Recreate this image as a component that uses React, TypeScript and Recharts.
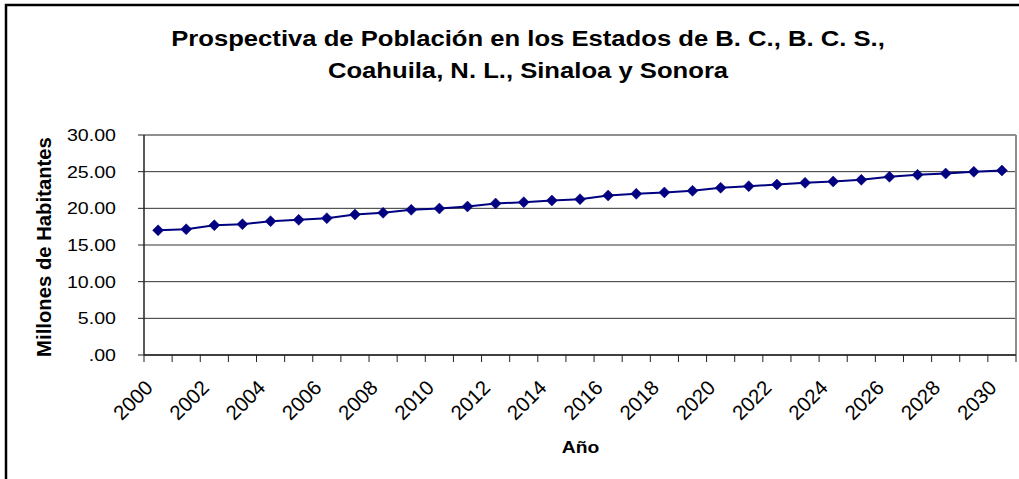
import React from 'react';
import { LineChart, Line, XAxis, YAxis, CartesianGrid, ReferenceLine } from 'recharts';

const years = [
  2000, 2001, 2002, 2003, 2004, 2005, 2006, 2007, 2008, 2009, 2010,
  2011, 2012, 2013, 2014, 2015, 2016, 2017, 2018, 2019, 2020,
  2021, 2022, 2023, 2024, 2025, 2026, 2027, 2028, 2029, 2030,
];
const poblacion = [
  17.0, 17.15, 17.7, 17.84, 18.25, 18.43, 18.66, 19.16, 19.39, 19.8, 19.98,
  20.25, 20.66, 20.84, 21.07, 21.25, 21.75, 21.98, 22.17, 22.39, 22.8,
  23.02, 23.25, 23.48, 23.66, 23.89, 24.3, 24.57, 24.75, 24.98, 25.16,
];
const yTicks = [0, 5, 10, 15, 20, 25, 30];
const yearLabels = [2000, 2002, 2004, 2006, 2008, 2010, 2012, 2014, 2016, 2018, 2020, 2022, 2024, 2026, 2028, 2030];
const titleLines = [
  'Prospectiva de Población en los Estados de B. C., B. C. S.,',
  'Coahuila, N. L., Sinaloa y Sonora',
];
const yAxisTitle = 'Millones de Habitantes';
const xAxisTitle = 'Año';

const data = years.map((year, i) => ({ year, value: poblacion[i] }));
const boundaries = [...years.map((y) => y - 0.5), years[years.length - 1] + 0.5];

const FONT = '"Liberation Sans", Arial, Helvetica, sans-serif';
const NAVY = '#000080';

function YTick(props: any) {
  const { x, y, payload } = props;
  const v = Number(payload.value);
  const label = v === 0 ? '.00' : v.toFixed(2);
  return (
    <text
      transform={`translate(${x},${y}) scale(1.167,1)`}
      textAnchor="end"
      dy="0.36em"
      fontFamily={FONT}
      fontSize={16.8}
      fill="#000"
    >
      {label}
    </text>
  );
}

function XTick(props: any) {
  const { x, y, payload, width } = props;
  const year = Number(payload.value) + 0.5;
  if (!yearLabels.includes(year)) return <g />;
  const cx = x + Number(width) / (2 * years.length);
  const ax = cx - 4;
  const ay = y + 27;
  return (
    <text
      transform={`translate(${ax},${ay}) rotate(-45)`}
      textAnchor="end"
      fontFamily={FONT}
      fontSize={20.5}
      fill="#000"
    >
      {year}
    </text>
  );
}

function Diamond(props: any) {
  const { cx, cy } = props;
  if (cx == null || cy == null) return <g />;
  const r = 5.5;
  return (
    <polygon
      points={`${cx},${cy - r} ${cx + r},${cy} ${cx},${cy + r} ${cx - r},${cy}`}
      fill={NAVY}
      stroke={NAVY}
      strokeWidth={0.5}
    />
  );
}

export default function App() {
  return (
    <div
      style={{
        position: 'absolute',
        left: 0,
        top: 0,
        width: 1019,
        height: 479,
        overflow: 'hidden',
        background: '#fff',
      }}
    >
      <LineChart
        width={1019}
        height={479}
        data={data}
        margin={{ top: 135, right: 3, bottom: 0, left: 0 }}
      >
        <CartesianGrid vertical={false} stroke="#333" strokeWidth={1} />
        <XAxis
          dataKey="year"
          type="number"
          domain={[boundaries[0], boundaries[boundaries.length - 1]]}
          ticks={boundaries}
          interval={0}
          tick={XTick}
          tickSize={7}
          tickMargin={0}
          height={124}
          axisLine={{ stroke: '#222', strokeWidth: 1.5 }}
          tickLine={{ stroke: '#222' }}
          allowDataOverflow
        />
        <YAxis
          type="number"
          domain={[0, 30]}
          ticks={yTicks}
          interval={0}
          tick={YTick}
          tickSize={6}
          tickMargin={22}
          width={144}
          axisLine={{ stroke: '#222', strokeWidth: 1.5 }}
          tickLine={{ stroke: '#222' }}
        />
        <ReferenceLine y={30} stroke="#8c8c8c" strokeWidth={1.5} />
        <ReferenceLine x={boundaries[boundaries.length - 1]} stroke="#8c8c8c" strokeWidth={2} />
        <Line
          type="linear"
          dataKey="value"
          stroke={NAVY}
          strokeWidth={2}
          dot={Diamond}
          activeDot={false}
          isAnimationActive={false}
        />
      </LineChart>
      <svg
        width={1019}
        height={479}
        style={{ position: 'absolute', left: 0, top: 0, pointerEvents: 'none' }}
      >
        <rect x={6} y={5} width={1100} height={600} fill="none" stroke="#000" strokeWidth={2.5} />
        <text
          transform="translate(528,45.7) scale(1.14,1)"
          textAnchor="middle"
          fontFamily={FONT}
          fontWeight="bold"
          fontSize={22.5}
          fill="#000"
        >
          {titleLines[0]}
        </text>
        <text
          transform="translate(528,78) scale(1.14,1)"
          textAnchor="middle"
          fontFamily={FONT}
          fontWeight="bold"
          fontSize={22.5}
          fill="#000"
        >
          {titleLines[1]}
        </text>
        <text
          transform="translate(51,247) rotate(-90)"
          textAnchor="middle"
          fontFamily={FONT}
          fontWeight="bold"
          fontSize={20.3}
          fill="#000"
        >
          {yAxisTitle}
        </text>
        <text
          transform="translate(580.5,452.7) scale(1.15,1)"
          textAnchor="middle"
          fontFamily={FONT}
          fontWeight="bold"
          fontSize={16.8}
          fill="#000"
        >
          {xAxisTitle}
        </text>
      </svg>
    </div>
  );
}
